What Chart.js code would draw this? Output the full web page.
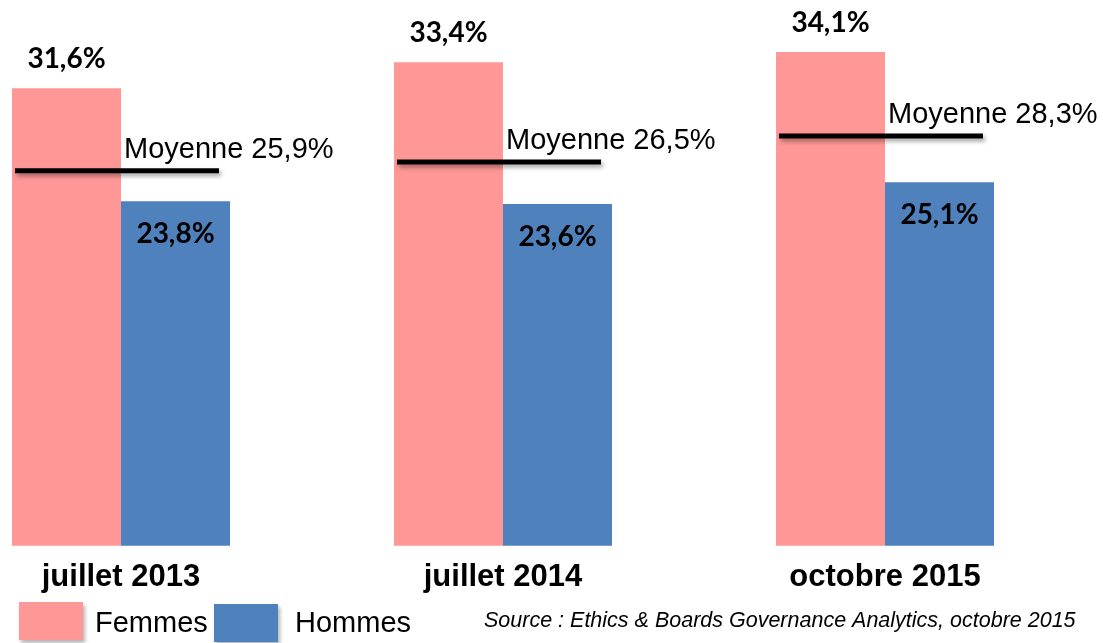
<!DOCTYPE html>
<html>
<head>
<meta charset="utf-8">
<script src="https://cdn.jsdelivr.net/npm/chart.js@4"></script>
<style>
  body { margin: 0; background: #fff; }
  canvas { display: block; }
</style>
</head>
<body>
<canvas id="chart" width="1103" height="643"></canvas>
<script>
const categories = ["juillet 2013", "juillet 2014", "octobre 2015"];
const seriesNames = ["Femmes", "Hommes"];
const femmes = [31.6, 33.4, 34.1];
const hommes = [23.8, 23.6, 25.1];
const moyennes = [25.9, 26.5, 28.3];
const sourceText = "Source : Ethics & Boards Governance Analytics, octobre 2015";

const PINK = "#ff9797";
const BLUE = "#4f81bd";

const fmt = (v) => v.toFixed(1).replace(".", ",") + "%";

// Value labels, average lines, legend and source note.
const annotations = {
  id: "annotations",
  afterDatasetsDraw(chart) {
    const ctx = chart.ctx;
    const y = chart.scales.y;
    const fBars = chart.getDatasetMeta(0).data;
    const hBars = chart.getDatasetMeta(1).data;

    ctx.save();
    ctx.textBaseline = "alphabetic";
    ctx.fillStyle = "#000";
    ctx.font = "bold 28px Lato";
    ctx.textAlign = "center";
    fBars.forEach((bar, i) => {
      ctx.fillText(fmt(femmes[i]), bar.x, bar.y - 20);
    });
    hBars.forEach((bar, i) => {
      ctx.fillText(fmt(hommes[i]), bar.x, bar.y + 42);
    });

    moyennes.forEach((m, i) => {
      const f = fBars[i];
      const h = hBars[i];
      const py = y.getPixelForValue(m);
      ctx.save();
      ctx.shadowColor = "rgba(0,0,0,0.35)";
      ctx.shadowOffsetX = 2;
      ctx.shadowOffsetY = 3;
      ctx.shadowBlur = 4;
      ctx.strokeStyle = "#000";
      ctx.lineWidth = 5;
      ctx.beginPath();
      ctx.moveTo(f.x - f.width / 2 + 3, py);
      ctx.lineTo(h.x + h.width / 2 - 11, py);
      ctx.stroke();
      ctx.restore();

      ctx.font = "29px 'Liberation Sans', Arial";
      ctx.textAlign = "left";
      ctx.fillText("Moyenne " + fmt(m), h.x - h.width / 2 + 3, py - 13);
    });
    ctx.restore();
  },
  afterDraw(chart) {
    const ctx = chart.ctx;
    ctx.save();
    const items = [
      { x: 19, y: 602, tx: 95, color: PINK },
      { x: 214, y: 604, tx: 295, color: BLUE },
    ];
    items.forEach((it, i) => {
      ctx.save();
      ctx.shadowColor = "rgba(0,0,0,0.3)";
      ctx.shadowOffsetX = 2;
      ctx.shadowOffsetY = 3;
      ctx.shadowBlur = 4;
      ctx.fillStyle = it.color;
      ctx.fillRect(it.x, it.y, 64, 38);
      ctx.restore();
      ctx.fillStyle = "#000";
      ctx.font = "29px 'Liberation Sans', Arial";
      ctx.textAlign = "left";
      ctx.fillText(seriesNames[i], it.tx, 632);
    });

    ctx.font = "italic 21.5px 'Liberation Sans', Arial";
    ctx.fillText(sourceText, 484, 627);
    ctx.restore();
  },
};

new Chart(document.getElementById("chart"), {
  type: "bar",
  data: {
    labels: categories,
    datasets: [
      { label: seriesNames[0], data: femmes, backgroundColor: PINK, clip: false },
      { label: seriesNames[1], data: hommes, backgroundColor: BLUE, clip: false },
    ],
  },
  options: {
    responsive: false,
    animation: false,
    categoryPercentage: 0.5707,
    barPercentage: 1,
    layout: { padding: { left: 121, right: 218, top: 10, bottom: 34 } },
    scales: {
      x: {
        offset: false,
        grid: { display: false, drawTicks: false },
        border: { display: false },
        ticks: {
          padding: 13,
          color: "#000",
          font: { family: "'Liberation Sans', Arial", size: 31, weight: "bold" },
        },
      },
      y: { display: false, min: 0, max: 37 },
    },
    plugins: {
      legend: { display: false },
      tooltip: { enabled: false },
    },
  },
  plugins: [annotations],
});
</script>
</body>
</html>
